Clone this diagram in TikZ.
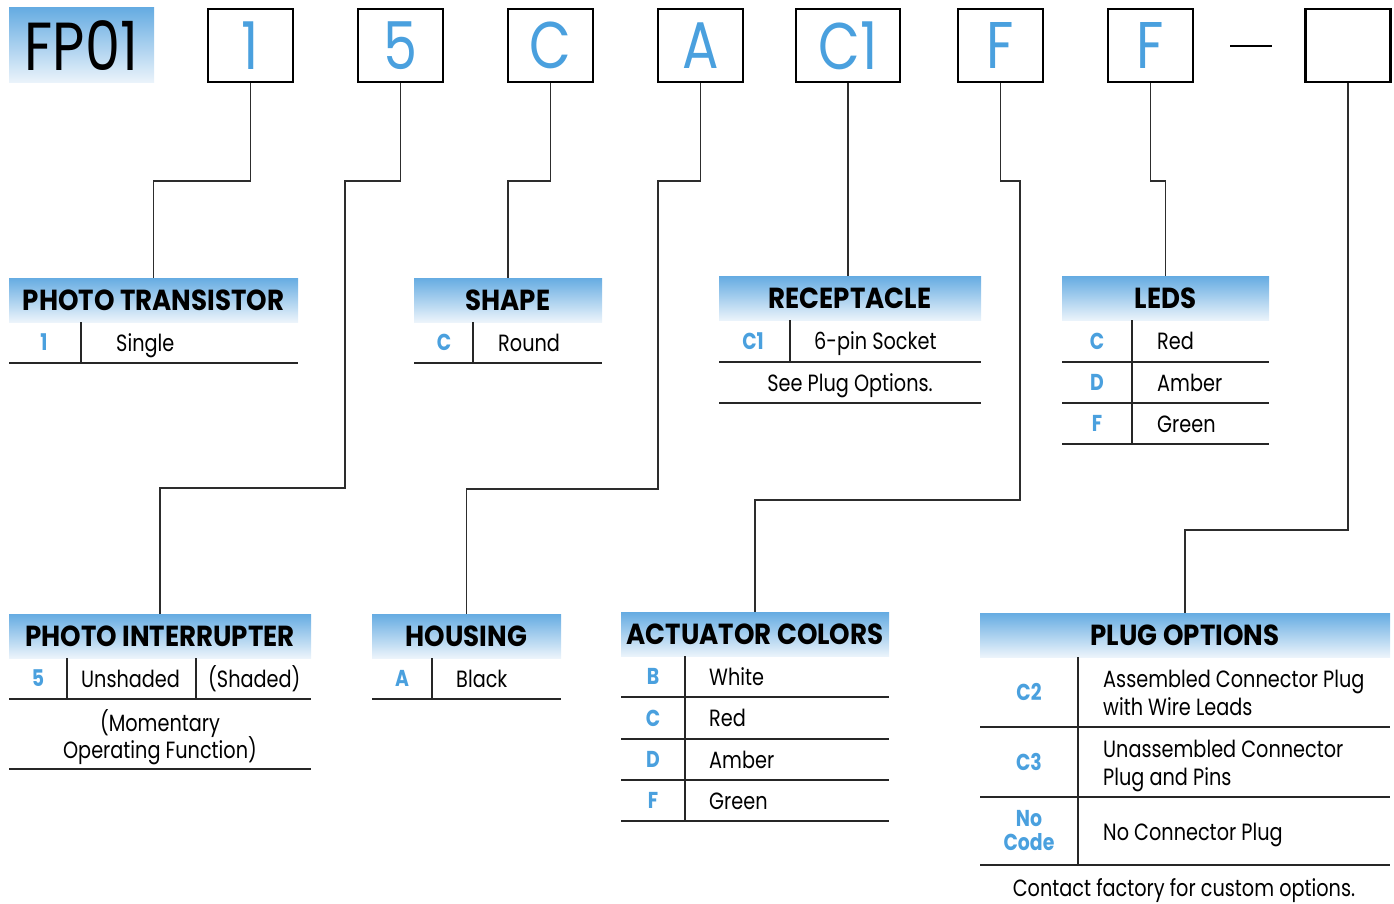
\documentclass[tikz,border=0pt]{standalone}
\usepackage{fontspec}
\setmainfont{Poppins}[FakeStretch=0.82]
\newfontfamily\headfont{Poppins}[FakeStretch=0.9]
\usetikzlibrary{positioning}

\definecolor{codeblue}{RGB}{74,160,222}
\definecolor{headtop}{RGB}{102,172,226}
\definecolor{headbot}{RGB}{236,244,251}
\definecolor{wiregray}{RGB}{45,45,45}

\tikzset{
  digitbox/.style={draw, line width=2.4pt, minimum width=85pt, minimum height=73pt,
    inner sep=0pt, text=codeblue, font=\fontsize{66}{66}\selectfont},
  header/.style={top color=headtop, bottom color=headbot, minimum height=44pt,
    inner sep=0pt, font=\headfont\bfseries\fontsize{29}{29}\selectfont},
  code/.style={text=codeblue, inner sep=0pt, font=\bfseries\fontsize{23}{23}\selectfont},
  entry/.style={anchor=base west, inner sep=0pt, font=\fontsize{23.5}{23.5}\selectfont},
  centry/.style={anchor=base, inner sep=0pt, font=\fontsize{23.5}{23.5}\selectfont},
  rule/.style={line width=1.5pt, black!85},
  wire/.style={line width=1.4pt, wiregray},
}

\begin{document}
\begin{tikzpicture}[x=1pt, y=-1pt]
  \useasboundingbox (0,0) rectangle (1394,904);

  % part number
  \node (fp) at (81.5,45.5) [top color=headtop, bottom color=headbot, minimum width=145pt,
    minimum height=75pt, inner sep=0pt, font=\fontsize{68}{68}\selectfont] {FP01};
  \node (b1)  at (250.5,45.5) [digitbox] {1};
  \node (b5)  at (400.5,45.5) [digitbox] {5};
  \node (bC)  at (550.5,45.5) [digitbox] {C};
  \node (bA)  at (700.5,45.5) [digitbox] {A};
  \node (bC1) at (848,45.5)   [digitbox, minimum width=104pt] {C1};
  \node (bF)  at (1000.5,45.5) [digitbox] {F};
  \node (bF2) at (1150.5,45.5) [digitbox] {F};
  \node (bX)  at (1348,45.5)  [digitbox] {};
  \draw[line width=2.4pt] (1230,46) -- (1272,46);

  % photo transistor
  \node (pt) at (153.5,300) [header, minimum width=289pt] {PHOTO TRANSISTOR};
  \node (pt1) at (44,342.5) [code] {1};
  \node (pt1t) at (116,351) [entry] {Single};
  \draw[rule] (81,322) -- (81,363);
  \draw[rule] (9,363) -- (298,363);

  % shape
  \node (shape) at (508,300) [header, minimum width=188pt] {SHAPE};
  \node (shC) at (444,342.5) [code] {C};
  \node (shCt) at (498,351) [entry] {Round};
  \draw[rule] (473,322) -- (473,363);
  \draw[rule] (414,363) -- (602,363);

  % receptacle
  \node (rec) at (850,298.5) [header, minimum width=262pt] {RECEPTACLE};
  \node (reC1) at (753,341) [code] {C1};
  \node (reC1t) at (814,349) [entry] {6-pin Socket};
  \node (reNote) at (850,391) [centry] {See Plug Options.};
  \draw[rule] (790,320) -- (790,362);
  \draw[rule] (719,362) -- (981,362);
  \draw[rule] (719,403) -- (981,403);

  % leds
  \node (leds) at (1165.5,298.5) [header, minimum width=207pt] {LEDS};
  \node (ldC) at (1097,341) [code] {C};
  \node (ldCt) at (1157,349) [entry] {Red};
  \node (ldD) at (1097,382.5) [code] {D};
  \node (ldDt) at (1157,391) [entry] {Amber};
  \node (ldF) at (1097,423.5) [code] {F};
  \node (ldFt) at (1157,432) [entry] {Green};
  \draw[rule] (1132,320) -- (1132,444);
  \draw[rule] (1062,362) -- (1269,362);
  \draw[rule] (1062,403) -- (1269,403);
  \draw[rule] (1062,444) -- (1269,444);

  % photo interrupter
  \node (pi) at (160,636) [header, minimum width=302pt] {PHOTO INTERRUPTER};
  \node (pi5) at (38,678.5) [code] {5};
  \node (pi5a) at (81,687) [entry] {Unshaded};
  \node (pi5b) at (208,687) [entry] {(Shaded)};
  \node (piNa) at (160,731) [centry] {(Momentary};
  \node (piNb) at (160,758) [centry] {Operating Function)};
  \draw[rule] (67,658) -- (67,699);
  \draw[rule] (196,658) -- (196,699);
  \draw[rule] (9,699) -- (311,699);
  \draw[rule] (9,769) -- (311,769);

  % housing
  \node (hous) at (466.5,636) [header, minimum width=189pt] {HOUSING};
  \node (hoA) at (402,678.5) [code] {A};
  \node (hoAt) at (456,687) [entry] {Black};
  \draw[rule] (432,658) -- (432,699);
  \draw[rule] (372,699) -- (561,699);

  % actuator colors
  \node (act) at (755,634.5) [header, minimum width=268pt] {ACTUATOR COLORS};
  \node (acB) at (653,676.5) [code] {B};
  \node (acBt) at (709,685) [entry] {White};
  \node (acC) at (653,718) [code] {C};
  \node (acCt) at (709,726) [entry] {Red};
  \node (acD) at (653,759.5) [code] {D};
  \node (acDt) at (709,768) [entry] {Amber};
  \node (acF) at (653,800.5) [code] {F};
  \node (acFt) at (709,809) [entry] {Green};
  \draw[rule] (685,656) -- (685,821);
  \foreach \y in {697,739,780,821}
    \draw[rule] (621,\y) -- (889,\y);

  % plug options
  \node (plug) at (1185,635) [header, minimum width=410pt] {PLUG OPTIONS};
  \node (plC2) at (1029,692) [code] {C2};
  \node (plC2a) at (1103,687) [entry] {Assembled Connector Plug};
  \node (plC2b) at (1103,715) [entry] {with Wire Leads};
  \node (plC3) at (1029,762) [code] {C3};
  \node (plC3a) at (1103,757) [entry] {Unassembled Connector};
  \node (plC3b) at (1103,785) [entry] {Plug and Pins};
  \node (plNo) at (1029,831) [code, align=center, font=\bfseries\fontsize{23}{24}\selectfont] {No\\Code};
  \node (plNot) at (1103,840) [entry] {No Connector Plug};
  \node (plNote) at (1184,896) [centry] {Contact factory for custom options.};
  \draw[rule] (1078,657) -- (1078,865);
  \foreach \y in {727,797,865}
    \draw[rule] (980,\y) -- (1390,\y);

  % connectors
  \draw[wire] (b1.south) |- (pt.north |- 0,181) -- (pt.north);
  \draw[wire] (b5.south) |- (345,181) |- (pi.north |- 0,488) -- (pi.north);
  \draw[wire] (bC.south) |- (shape.north |- 0,181) -- (shape.north);
  \draw[wire] (bA.south) |- (658,181) |- (hous.north |- 0,489) -- (hous.north);
  \draw[wire] (bC1.south) -- (bC1.south |- rec.north);
  \draw[wire] (bF.south) |- (1020,181) |- (act.north |- 0,500) -- (act.north);
  \draw[wire] (bF2.south) |- (leds.north |- 0,181) -- (leds.north);
  \draw[wire] (bX.south) |- (plug.north |- 0,530) -- (plug.north);
\end{tikzpicture}
\end{document}
